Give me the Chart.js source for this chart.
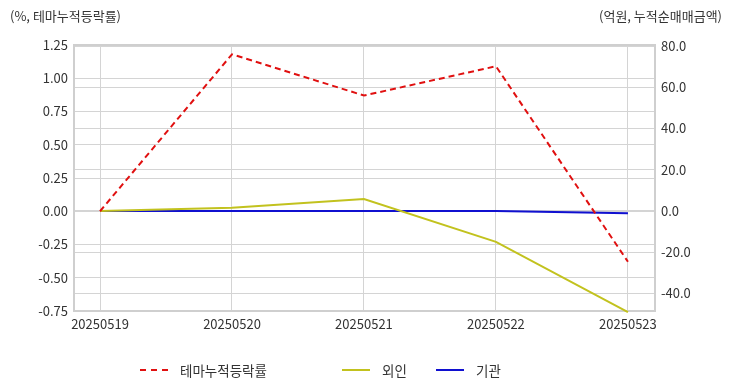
<!DOCTYPE html>
<html><head><meta charset="utf-8">
<script src="https://cdn.jsdelivr.net/npm/chart.js@4/dist/chart.umd.min.js"></script>
<style>
html,body{margin:0;padding:0;background:#fff;}
#wrap{position:relative;width:732px;height:392px;font-family:"Noto Sans CJK KR","Noto Sans",sans-serif;color:#333;}
canvas{position:absolute;left:0;top:0;}
.ttl{position:absolute;top:6px;font-size:13px;white-space:nowrap;}
#legend{position:absolute;top:359px;left:0;width:732px;height:22px;font-size:13.5px;}
.li{position:absolute;top:0;height:22px;line-height:22px;white-space:nowrap;}
.sw{position:absolute;top:10px;width:28px;height:0;}
.lt{position:absolute;left:40px;top:0;}
</style></head>
<body>
<div id="wrap">
<canvas id="c" width="732" height="392"></canvas>
<div class="ttl" style="left:10px;">(%, 테마누적등락률)</div>
<div class="ttl" style="right:10px;">(억원, 누적순매매금액)</div>
<div id="legend"></div>
</div>
<script>
const categories = ["20250519","20250520","20250521","20250522","20250523"];
const themeReturn = [0.00, 1.18, 0.87, 1.09, -0.38];
const foreignNet = [0.0, 1.6, 5.8, -15.0, -49.0];
const instNet = [0.0, 0.0, 0.0, 0.0, -1.1];
const leftTicks = [-0.75,-0.5,-0.25,0,0.25,0.5,0.75,1.0,1.25];
const rightTicks = [-40,-20,0,20,40,60,80];

const toXY = arr => arr.map((v,i)=>({x:i,y:v}));
const gridColor = '#d4d4d4';
const font = {family:'"Noto Sans CJK KR","Noto Sans",sans-serif', size:13};

const datasets = [
  {label:'테마누적등락률', data:toXY(themeReturn), yAxisID:'yL', borderColor:'#e01010', borderWidth:2, borderDash:[6,4], pointRadius:0, tension:0, fill:false},
  {label:'외인', data:toXY(foreignNet), yAxisID:'yR', borderColor:'#c2c21e', borderWidth:2, pointRadius:0, tension:0, fill:false},
  {label:'기관', data:toXY(instNet), yAxisID:'yR', borderColor:'#1010d0', borderWidth:2, pointRadius:0, tension:0, fill:false}
];

new Chart(document.getElementById('c'), {
  type:'line',
  data:{datasets},
  options:{
    responsive:false, animation:false,
    layout:{padding:{top:45,bottom:61,left:0,right:0}},
    plugins:{legend:{display:false}, tooltip:{enabled:false}},
    clip:false,
    scales:{
      x:{type:'linear', min:-0.197, max:4.205,
         afterBuildTicks:s=>{s.ticks = categories.map((c,i)=>({value:i}));},
         ticks:{callback:(v)=>categories[v], color:'#333', font, padding:5, maxRotation:0, autoSkip:false},
         grid:{color:gridColor, drawTicks:false},
         border:{color:'#cfcfcf', width:2},
         afterFit:s=>{s.height=20;}},
      yL:{position:'left', min:-0.75, max:1.25,
         afterBuildTicks:s=>{s.ticks = leftTicks.map(v=>({value:v}));},
         ticks:{callback:v=>v.toFixed(2), color:'#333', font, padding:6},
         grid:{color:gridColor, drawTicks:false},
         border:{color:'#cfcfcf', width:2},
         afterFit:s=>{s.width=74;}},
      yR:{position:'right', min:-48.5, max:80.5,
         afterBuildTicks:s=>{s.ticks = rightTicks.map(v=>({value:v}));},
         ticks:{callback:v=>v.toFixed(1), color:'#333', font, padding:6},
         grid:{color:gridColor, drawTicks:false},
         border:{color:'#cfcfcf', width:2},
         afterFit:s=>{s.width=77;}}
    }
  },
  plugins:[{id:'topBorder', afterDraw(ch){const a=ch.chartArea,c=ch.ctx;c.save();c.strokeStyle='#cfcfcf';c.lineWidth=2;c.beginPath();c.moveTo(a.left,a.top);c.lineTo(a.right,a.top);c.stroke();c.restore();}}]
});

const legendPos = [140, 342, 436];
const lg = document.getElementById('legend');
datasets.forEach((d,i)=>{
  const it = document.createElement('div'); it.className='li'; it.style.left=legendPos[i]+'px';
  const sw = document.createElement('div'); sw.className='sw';
  sw.style.borderTop = '2px '+(d.borderDash?'dashed ':'solid ')+d.borderColor;
  const t = document.createElement('span'); t.className='lt'; t.textContent=d.label;
  it.appendChild(sw); it.appendChild(t); lg.appendChild(it);
});
</script>
</body></html>
